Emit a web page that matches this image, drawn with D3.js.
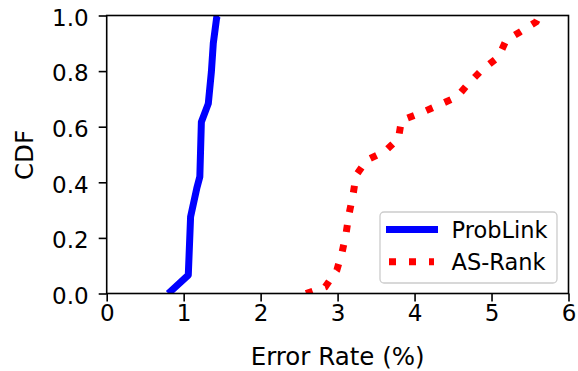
<!DOCTYPE html>
<html>

<head>
    <meta charset="utf-8">
    <title>Error Rate CDF</title>
    <style>
        body { margin: 0; background: #fff; }
        text { font-family: "DejaVu Sans", sans-serif; }
    </style>
</head>

<body>
    <script src="https://cdn.jsdelivr.net/npm/d3@7/dist/d3.min.js"></script>
    <script>
        // ProbLink error-rate CDF
        var probX = [0.80, 1.06, 1.09, 1.17, 1.21, 1.23, 1.32, 1.36, 1.385, 1.43, 1.45];
        var probY = [0, 0.066, 0.276, 0.378, 0.42, 0.617, 0.683, 0.797, 0.90, 0.995, 1.0];
        // AS-Rank error-rate CDF
        var asX = [2.59, 2.84, 2.99, 3.06, 3.11, 3.15, 3.20, 3.24, 3.38, 3.61, 3.79, 3.83, 4.07, 4.31, 4.55, 4.70, 4.87, 5.09, 5.19, 5.37, 5.58, 5.62];
        var asY = [0, 0.024, 0.084, 0.15, 0.216, 0.288, 0.354, 0.425, 0.48, 0.51, 0.557, 0.623, 0.648, 0.677, 0.707, 0.755, 0.803, 0.851, 0.911, 0.941, 0.977, 1.0];
        var xTicks = [0, 1, 2, 3, 4, 5, 6];
        var yTicks = [0, 0.2, 0.4, 0.6, 0.8, 1.0];
        var seriesNames = ["ProbLink", "AS-Rank"];

        var width = 578, height = 371;
        var pLeft = 106.7, pRight = 568.5, pTop = 15.5, pBottom = 293.5;
        var tickFs = 23, labelFs = 24.5, legendFs = 22.5;

        var svg = d3.select("body")
            .append("svg")
            .attr("width", width)
            .attr("height", height);

        var x = d3.scaleLinear().domain([0, 6]).range([pLeft, pRight]);
        var y = d3.scaleLinear().domain([0, 1]).range([pBottom, pTop]);

        svg.append("clipPath")
            .attr("id", "plotclip")
            .append("rect")
            .attr("x", pLeft)
            .attr("y", pTop)
            .attr("width", pRight - pLeft)
            .attr("height", pBottom - pTop);

        var line = d3.line()
            .x(function (d) { return x(d[0]); })
            .y(function (d) { return y(d[1]); });

        var probData = probX.map(function (v, i) { return [v, probY[i]]; });
        var asData = asX.map(function (v, i) { return [v, asY[i]]; });

        var plot = svg.append("g").attr("clip-path", "url(#plotclip)");
        plot.append("path")
            .attr("d", line(probData))
            .attr("fill", "none")
            .attr("stroke", "#0000ff")
            .attr("stroke-width", 7)
            .attr("stroke-linejoin", "round");
        plot.append("path")
            .attr("d", line(asData))
            .attr("fill", "none")
            .attr("stroke", "#ff0000")
            .attr("stroke-width", 7)
            .attr("stroke-dasharray", "7,13");

        // axes
        var xAxis = svg.append("g")
            .attr("transform", "translate(0," + pBottom + ")")
            .call(d3.axisBottom(x).tickValues(xTicks).tickFormat(d3.format("d")).tickSize(8).tickPadding(3));
        var yAxis = svg.append("g")
            .attr("transform", "translate(" + pLeft + ",0)")
            .call(d3.axisLeft(y).tickValues(yTicks).tickFormat(d3.format(".1f")).tickSize(8).tickPadding(10));
        [xAxis, yAxis].forEach(function (a) {
            a.select(".domain").remove();
            a.selectAll("line").attr("stroke", "#000").attr("stroke-width", 1.6);
            a.selectAll("text")
                .attr("font-family", "DejaVu Sans")
                .attr("font-size", tickFs)
                .attr("fill", "#000");
        });
        yAxis.selectAll("text").attr("dy", "0.43em");

        // frame
        svg.append("rect")
            .attr("x", pLeft)
            .attr("y", pTop)
            .attr("width", pRight - pLeft)
            .attr("height", pBottom - pTop)
            .attr("fill", "none")
            .attr("stroke", "#000")
            .attr("stroke-width", 1.6);

        // axis labels
        svg.append("text")
            .attr("x", (pLeft + pRight) / 2)
            .attr("y", 365)
            .attr("text-anchor", "middle")
            .attr("font-size", labelFs)
            .text("Error Rate (%)");
        svg.append("text")
            .attr("transform", "translate(33,155) rotate(-90)")
            .attr("text-anchor", "middle")
            .attr("font-size", labelFs)
            .text("CDF");

        // legend
        var lg = svg.append("g");
        lg.append("rect")
            .attr("x", 380)
            .attr("y", 212)
            .attr("width", 177)
            .attr("height", 71)
            .attr("rx", 4)
            .attr("fill", "#fff")
            .attr("fill-opacity", 0.8)
            .attr("stroke", "#cccccc")
            .attr("stroke-width", 1.3);
        lg.append("line")
            .attr("x1", 386).attr("x2", 438)
            .attr("y1", 229.5).attr("y2", 229.5)
            .attr("stroke", "#0000ff")
            .attr("stroke-width", 7);
        lg.append("line")
            .attr("x1", 389).attr("x2", 434)
            .attr("y1", 261.7).attr("y2", 261.7)
            .attr("stroke", "#ff0000")
            .attr("stroke-width", 7)
            .attr("stroke-dasharray", "7,13");
        lg.selectAll(".lbl")
            .data(seriesNames)
            .enter()
            .append("text")
            .attr("x", 451.5)
            .attr("y", function (d, i) { return 238 + i * 32.3; })
            .attr("font-size", legendFs)
            .attr("fill", "#000")
            .text(function (d) { return d; });
    </script>
</body>

</html>
